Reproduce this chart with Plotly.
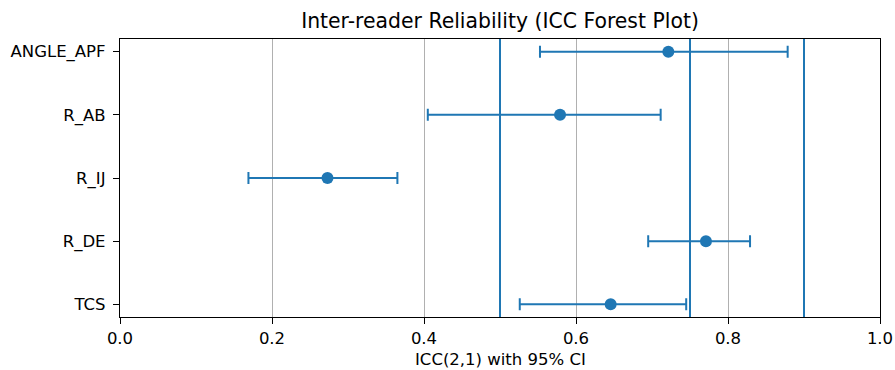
import plotly.graph_objects as go

measures = ["ANGLE_APF", "R_AB", "R_IJ", "R_DE", "TCS"]
icc = [0.7215, 0.579, 0.273, 0.771, 0.6456]
ci_low = [0.5526, 0.405, 0.169, 0.695, 0.526]
ci_high = [0.8785, 0.7114, 0.365, 0.829, 0.745]
thresholds = [0.5, 0.75, 0.9]
x_ticks = [0.0, 0.2, 0.4, 0.6, 0.8, 1.0]

BLUE = "#1f77b4"
FONT = "DejaVu Sans"
W, H = 895, 370
L, R, T, B = 120, 15, 39, 53

fig = go.Figure()
fig.add_trace(go.Scatter(
    x=icc, y=measures, mode="markers",
    marker=dict(color=BLUE, size=12),
    error_x=dict(
        type="data", symmetric=False,
        array=[h - v for h, v in zip(ci_high, icc)],
        arrayminus=[v - l for v, l in zip(icc, ci_low)],
        color=BLUE, thickness=2, width=6,
    ),
    showlegend=False,
))

for t in thresholds:
    fig.add_shape(type="line", x0=t, x1=t, y0=0, y1=1, yref="paper", xref="x",
                  line=dict(color=BLUE, width=2), layer="above")

plot_h = H - T - B
fig.add_annotation(
    text="ICC(2,1) with 95% CI", xref="paper", yref="paper",
    x=0.5, y=-(359 - (H - B)) / plot_h, xanchor="center", yanchor="middle",
    showarrow=False, font=dict(family=FONT, size=16.5, color="black"),
)

fig.update_layout(
    width=W, height=H,
    margin=dict(l=L, r=R, t=T, b=B, autoexpand=False),
    paper_bgcolor="white", plot_bgcolor="white",
    font=dict(family=FONT, size=16.5, color="black"),
    title=dict(text="Inter-reader Reliability (ICC Forest Plot)",
               x=(L + (W - R)) / 2 / W, xanchor="center",
               y=1 - 21 / H, yanchor="middle", yref="container",
               font=dict(family=FONT, size=20.4, color="black")),
)
fig.update_xaxes(
    range=[0, 1], tickvals=x_ticks, ticktext=[f"{v:.1f}" for v in x_ticks],
    showgrid=True, gridcolor="#b0b0b0", gridwidth=1.2,
    showline=True, linecolor="black", linewidth=1.3, mirror=True,
    ticks="outside", ticklen=6, tickwidth=1.3, tickcolor="black",
    zeroline=False, automargin=False,
)
fig.update_yaxes(
    type="category", categoryorder="array", categoryarray=measures,
    range=[4.2, -0.2],
    showgrid=False,
    showline=True, linecolor="black", linewidth=1.3, mirror=True,
    ticks="outside", ticklen=6, tickwidth=1.3, tickcolor="black",
    ticklabelstandoff=4,
    zeroline=False, automargin=False,
)

fig.write_html(
    "out.html",
    config={"displayModeBar": False},
    post_script="document.body.style.margin='0';document.body.style.overflow='hidden';",
)
